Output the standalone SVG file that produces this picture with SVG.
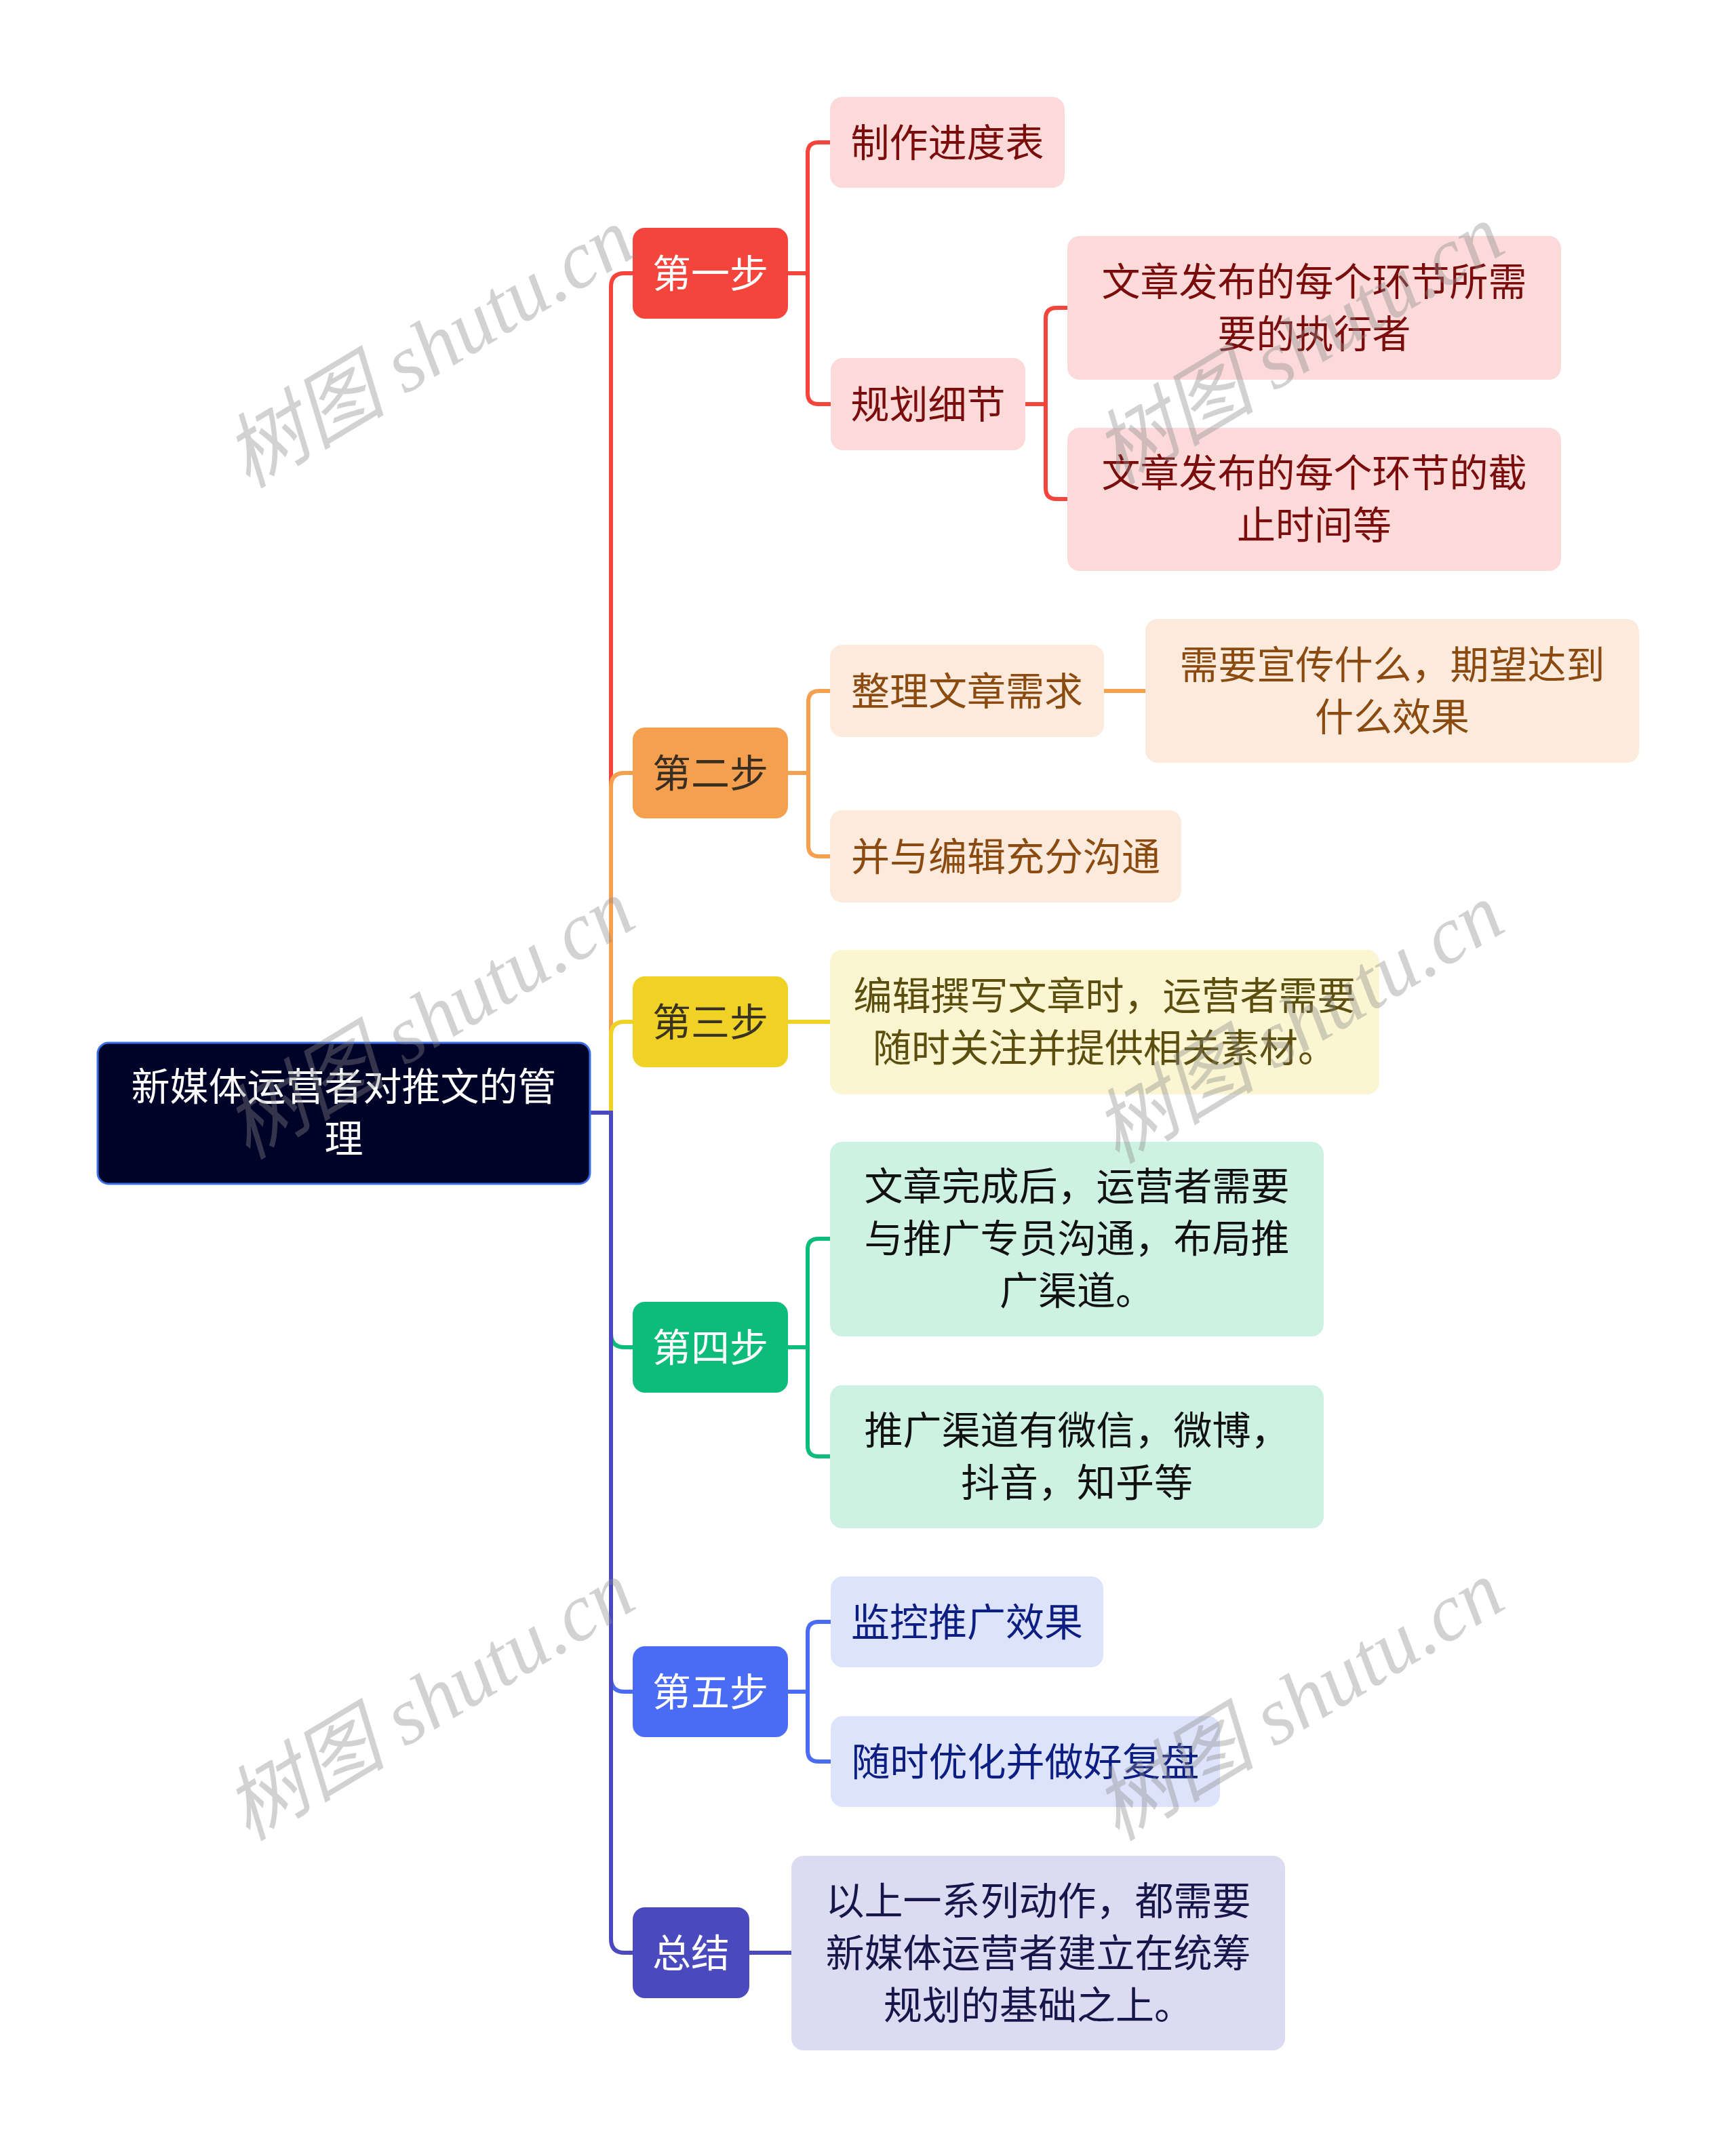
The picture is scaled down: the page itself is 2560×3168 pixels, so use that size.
<svg xmlns="http://www.w3.org/2000/svg" width="2560" height="3168" viewBox="0 0 2560 3168">
<style>
text{font-family:"Noto Sans CJK SC","Noto Sans",sans-serif;font-size:57px;text-anchor:middle}
.c{fill:none;stroke-width:6}
.wm{font-family:"Liberation Serif","Noto Sans CJK SC",serif;font-style:italic;font-size:120px;fill:#8a8a8a;fill-opacity:0.38;text-anchor:middle}
</style>
<rect width="2560" height="3168" fill="#ffffff"/>
<g id="connectors">
<path class="c" stroke="#F4453D" d="M870 1641 H901 V423 Q901 403 921 403 H933"/>
<path class="c" stroke="#F5A04F" d="M870 1641 H901 V1160 Q901 1140 921 1140 H933"/>
<path class="c" stroke="#F0D226" d="M870 1641 H901 V1527 Q901 1507 921 1507 H933"/>
<path class="c" stroke="#0DBB7B" d="M870 1641 H901 V1967 Q901 1987 921 1987 H933"/>
<path class="c" stroke="#4A6CF5" d="M870 1641 H901 V2475 Q901 2495 921 2495 H933"/>
<path class="c" stroke="#4A4ABE" d="M870 1641 H901 V2860 Q901 2880 921 2880 H933"/>
<path class="c" stroke="#F4453D" d="M1162 403 H1191 V226 Q1191 210 1207 210 H1224"/>
<path class="c" stroke="#F4453D" d="M1162 403 H1191 V580 Q1191 596 1207 596 H1225"/>
<path class="c" stroke="#F4453D" d="M1512 596 H1542 V470 Q1542 454 1558 454 H1574"/>
<path class="c" stroke="#F4453D" d="M1512 596 H1542 V720 Q1542 736 1558 736 H1574"/>
<path class="c" stroke="#F5A04F" d="M1162 1140 H1192 V1035 Q1192 1019 1208 1019 H1224"/>
<path class="c" stroke="#F5A04F" d="M1162 1140 H1192 V1247 Q1192 1263 1208 1263 H1224"/>
<path class="c" stroke="#F5A04F" d="M1628 1019 H1689"/>
<path class="c" stroke="#F0D226" d="M1162 1507 H1224"/>
<path class="c" stroke="#0DBB7B" d="M1162 1987 H1191 V1843 Q1191 1827 1207 1827 H1224"/>
<path class="c" stroke="#0DBB7B" d="M1162 1987 H1191 V2132 Q1191 2148 1207 2148 H1224"/>
<path class="c" stroke="#4A6CF5" d="M1162 2495 H1191 V2408 Q1191 2392 1207 2392 H1225"/>
<path class="c" stroke="#4A6CF5" d="M1162 2495 H1191 V2582 Q1191 2598 1207 2598 H1225"/>
<path class="c" stroke="#4A4ABE" d="M1105 2880 H1167"/>
</g>
<g id="root">
<rect x="144" y="1538" width="726" height="208" rx="16" fill="#000328" stroke="#3B6FE3" stroke-width="3"/>
<text x="507" y="1623" fill="#ffffff">新媒体运营者对推文的管</text>
<text x="507" y="1700" fill="#ffffff">理</text>
</g>
<g id="step1">
<rect x="933" y="336" width="229" height="134" rx="18" fill="#F4453D"/>
<text x="1047.5" y="424" fill="#ffffff">第一步</text>
</g>
<g id="n1a">
<rect x="1224" y="143" width="346" height="134" rx="18" fill="#FCDADA"/>
<text x="1397" y="231" fill="#7A0C0C">制作进度表</text>
</g>
<g id="n1b">
<rect x="1225" y="528" width="287" height="136" rx="18" fill="#FCDADA"/>
<text x="1368.5" y="617" fill="#7A0C0C">规划细节</text>
</g>
<g id="n1b1">
<rect x="1574" y="348" width="728" height="212" rx="18" fill="#FCDADA"/>
<text x="1938" y="436" fill="#7A0C0C">文章发布的每个环节所需</text>
<text x="1938" y="513" fill="#7A0C0C">要的执行者</text>
</g>
<g id="n1b2">
<rect x="1574" y="631" width="728" height="211" rx="18" fill="#FCDADA"/>
<text x="1938" y="718" fill="#7A0C0C">文章发布的每个环节的截</text>
<text x="1938" y="795" fill="#7A0C0C">止时间等</text>
</g>
<g id="step2">
<rect x="933" y="1073" width="229" height="134" rx="18" fill="#F5A04F"/>
<text x="1047.5" y="1161" fill="#3A2E22">第二步</text>
</g>
<g id="n2a">
<rect x="1224" y="951" width="404" height="136" rx="18" fill="#FCEBDD"/>
<text x="1426" y="1040" fill="#8A4A10">整理文章需求</text>
</g>
<g id="n2a1">
<rect x="1689" y="913" width="728" height="212" rx="18" fill="#FCEBDD"/>
<text x="2053" y="1001" fill="#8A4A10">需要宣传什么，期望达到</text>
<text x="2053" y="1078" fill="#8A4A10">什么效果</text>
</g>
<g id="n2b">
<rect x="1224" y="1195" width="518" height="136" rx="18" fill="#FCEBDD"/>
<text x="1483" y="1284" fill="#8A4A10">并与编辑充分沟通</text>
</g>
<g id="step3">
<rect x="933" y="1440" width="229" height="134" rx="18" fill="#F0D226"/>
<text x="1047.5" y="1528" fill="#3A3320">第三步</text>
</g>
<g id="n3a">
<rect x="1224" y="1401" width="810" height="213" rx="18" fill="#FBF5D2"/>
<text x="1629" y="1489" fill="#5C4E0E">编辑撰写文章时，运营者需要</text>
<text x="1629" y="1566" fill="#5C4E0E">随时关注并提供相关素材。</text>
</g>
<g id="step4">
<rect x="933" y="1920" width="229" height="134" rx="18" fill="#0DBB7B"/>
<text x="1047.5" y="2008" fill="#ffffff">第四步</text>
</g>
<g id="n4a">
<rect x="1224" y="1684" width="728" height="287" rx="18" fill="#CDF1E2"/>
<text x="1588" y="1770" fill="#111111">文章完成后，运营者需要</text>
<text x="1588" y="1847" fill="#111111">与推广专员沟通，布局推</text>
<text x="1588" y="1924" fill="#111111">广渠道。</text>
</g>
<g id="n4b">
<rect x="1224" y="2043" width="728" height="211" rx="18" fill="#CDF1E2"/>
<text x="1588" y="2130" fill="#111111">推广渠道有微信，微博，</text>
<text x="1588" y="2207" fill="#111111">抖音，知乎等</text>
</g>
<g id="step5">
<rect x="933" y="2428" width="229" height="134" rx="18" fill="#4A6CF5"/>
<text x="1047.5" y="2516" fill="#ffffff">第五步</text>
</g>
<g id="n5a">
<rect x="1225" y="2325" width="402" height="134" rx="18" fill="#DCE3FB"/>
<text x="1426" y="2413" fill="#0D1E82">监控推广效果</text>
</g>
<g id="n5b">
<rect x="1225" y="2531" width="574" height="134" rx="18" fill="#DCE3FB"/>
<text x="1512" y="2619" fill="#0D1E82">随时优化并做好复盘</text>
</g>
<g id="summary">
<rect x="933" y="2813" width="172" height="134" rx="18" fill="#4A4ABE"/>
<text x="1019" y="2901" fill="#ffffff">总结</text>
</g>
<g id="n6a">
<rect x="1167" y="2737" width="728" height="287" rx="18" fill="#DCDBF2"/>
<text x="1531" y="2824" fill="#16164A">以上一系列动作，都需要</text>
<text x="1531" y="2901" fill="#16164A">新媒体运营者建立在统筹</text>
<text x="1531" y="2978" fill="#16164A">规划的基础之上。</text>
</g>
<g id="watermarks">
<text class="wm" transform="translate(654 548) rotate(-31)">树图 shutu.cn</text>
<text class="wm" transform="translate(1936 543) rotate(-31)">树图 shutu.cn</text>
<text class="wm" transform="translate(654 1538) rotate(-31)">树图 shutu.cn</text>
<text class="wm" transform="translate(1936 1544) rotate(-31)">树图 shutu.cn</text>
<text class="wm" transform="translate(654 2543) rotate(-31)">树图 shutu.cn</text>
<text class="wm" transform="translate(1936 2543) rotate(-31)">树图 shutu.cn</text>
</g>
</svg>
